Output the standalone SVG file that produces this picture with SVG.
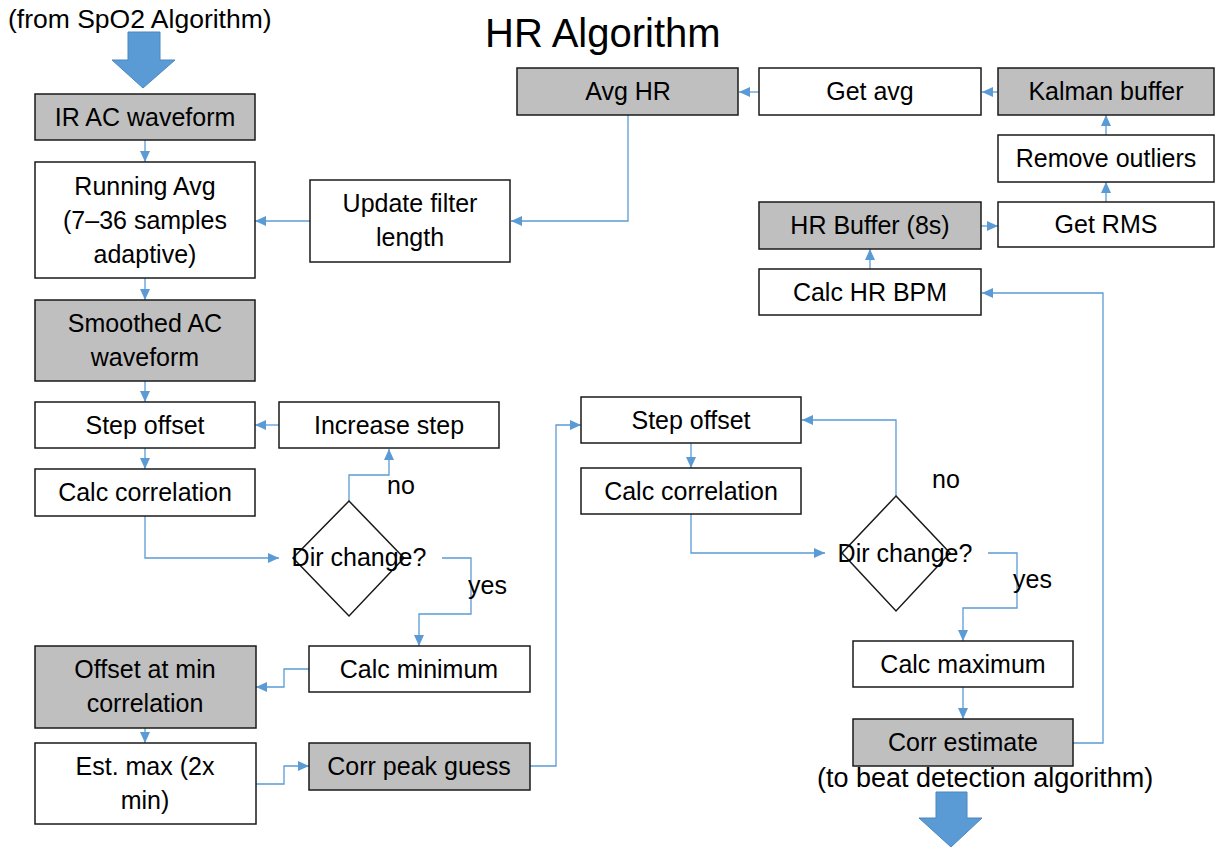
<svg xmlns="http://www.w3.org/2000/svg" width="1217" height="848" viewBox="0 0 1217 848">
  <style>
    text { font-family: "Liberation Sans", Arial, sans-serif; fill: #000; }
    .box { fill: #fff; stroke: #1a1a1a; stroke-width: 1.5; }
    .box.data { fill: #bfbfbf; }
    .lbl { font-size: 25px; text-anchor: middle; }
    .free { font-size: 26.5px; }
    .cond { font-size: 25px; }
    .title { font-size: 40px; }
    .conn { fill: none; stroke: #5b9bd5; stroke-width: 1.3; }
    .conn.arr { marker-end: url(#head); }
    .bigarrow { fill: #5b9bd5; stroke: #4a86c0; stroke-width: 1; }
    .diamond { fill: #fff; stroke: #1a1a1a; stroke-width: 1.5; }
  </style>
  <defs>
    <marker id="head" markerUnits="userSpaceOnUse" markerWidth="12" markerHeight="10" refX="11" refY="5" orient="auto">
      <path d="M0,0 L11,5 L0,10 Z" fill="#5b9bd5"/>
    </marker>
  </defs>

  <rect width="1217" height="848" fill="#fff"/>

  <!-- headings -->
  <text class="title" x="485" y="47">HR Algorithm</text>
  <text class="free" x="8" y="28">(from SpO2 Algorithm)</text>
  <text class="free" x="817" y="787" style="font-size:27px">(to beat detection algorithm)</text>

  <!-- block arrows for input and output -->
  <path class="bigarrow" d="M128,32 H160 V60 H175 L143,88 L112,60 H128 Z"/>
  <path class="bigarrow" d="M936,792 H967 V818 H982 L951,847 L919,818 H936 Z"/>

  <!-- connectors -->
  <g id="connectors">
    <path class="conn arr" d="M145,140 V162"/>
    <path class="conn arr" d="M145,278 V300"/>
    <path class="conn arr" d="M310,221 H255"/>
    <path class="conn arr" d="M628,115 V221 H511"/>
    <path class="conn arr" d="M145,381 V402"/>
    <path class="conn arr" d="M279,425 H255"/>
    <path class="conn arr" d="M145,448 V469"/>
    <path class="conn arr" d="M145,516 V558 H279"/>
    <path class="conn arr" d="M349,501 V475 H389 V449"/>
    <path class="conn arr" d="M442,558 H471 V614 H419 V646"/>
    <path class="conn arr" d="M309,669 H284 V687 H256"/>
    <path class="conn arr" d="M145,728 V743"/>
    <path class="conn arr" d="M256,784 H284 V766 H309"/>
    <path class="conn arr" d="M530,766 H556 V425 H581"/>
    <path class="conn arr" d="M691,443 V468"/>
    <path class="conn arr" d="M691,514 V553 H825"/>
    <path class="conn arr" d="M896,496 V420 H802"/>
    <path class="conn arr" d="M988,553 H1017 V608 H963 V641"/>
    <path class="conn arr" d="M963,687 V719"/>
    <path class="conn arr" d="M1073,743 H1103 V293 H982"/>
    <path class="conn arr" d="M870,269 V249"/>
    <path class="conn arr" d="M981,226 H998"/>
    <path class="conn arr" d="M1106,202 V182"/>
    <path class="conn arr" d="M1106,135 V115"/>
    <path class="conn arr" d="M998,92 H982"/>
    <path class="conn arr" d="M759,92 H739"/>
  </g>

  <!-- left column -->
  <g id="ir-ac-waveform">
    <rect class="box data" x="35" y="94" width="220" height="46"/>
    <text class="lbl" x="145" y="126">IR AC waveform</text>
  </g>
  <g id="running-avg">
    <rect class="box" x="35" y="162" width="220" height="116"/>
    <text class="lbl" x="145" y="195">Running Avg</text>
    <text class="lbl" x="145" y="229">(7–36 samples</text>
    <text class="lbl" x="145" y="263">adaptive)</text>
  </g>
  <g id="update-filter-length">
    <rect class="box" x="310" y="180" width="200" height="82"/>
    <text class="lbl" x="410" y="212">Update filter</text>
    <text class="lbl" x="410" y="246">length</text>
  </g>
  <g id="smoothed-ac">
    <rect class="box data" x="35" y="300" width="220" height="81"/>
    <text class="lbl" x="145" y="332">Smoothed AC</text>
    <text class="lbl" x="145" y="366">waveform</text>
  </g>
  <g id="step-offset-min">
    <rect class="box" x="35" y="402" width="220" height="46"/>
    <text class="lbl" x="145" y="434">Step offset</text>
  </g>
  <g id="increase-step">
    <rect class="box" x="279" y="402" width="220" height="46"/>
    <text class="lbl" x="389" y="434">Increase step</text>
  </g>
  <g id="calc-correlation-min">
    <rect class="box" x="35" y="469" width="220" height="47"/>
    <text class="lbl" x="145" y="501">Calc correlation</text>
  </g>
  <g id="dir-change-min">
    <path class="diamond" d="M349,501 L404,558 L349,616 L293,558 Z"/>
    <text class="lbl" x="359" y="566">Dir change?</text>
    <text class="cond" x="387" y="494">no</text>
    <text class="cond" x="468" y="594">yes</text>
  </g>
  <g id="calc-minimum">
    <rect class="box" x="309" y="646" width="221" height="46"/>
    <text class="lbl" x="419" y="678">Calc minimum</text>
  </g>
  <g id="offset-at-min">
    <rect class="box data" x="35" y="646" width="221" height="82"/>
    <text class="lbl" x="145" y="678">Offset at min</text>
    <text class="lbl" x="145" y="712">correlation</text>
  </g>
  <g id="est-max">
    <rect class="box" x="35" y="743" width="221" height="81"/>
    <text class="lbl" x="145" y="775">Est. max (2x</text>
    <text class="lbl" x="145" y="809">min)</text>
  </g>
  <g id="corr-peak-guess">
    <rect class="box data" x="309" y="743" width="221" height="47"/>
    <text class="lbl" x="419" y="775">Corr peak guess</text>
  </g>

  <!-- right column -->
  <g id="step-offset-max">
    <rect class="box" x="581" y="397" width="220" height="46"/>
    <text class="lbl" x="691" y="429">Step offset</text>
  </g>
  <g id="calc-correlation-max">
    <rect class="box" x="581" y="468" width="220" height="46"/>
    <text class="lbl" x="691" y="500">Calc correlation</text>
  </g>
  <g id="dir-change-max">
    <path class="diamond" d="M896,496 L950,553 L896,611 L842,553 Z"/>
    <text class="lbl" x="905" y="562">Dir change?</text>
    <text class="cond" x="932" y="488">no</text>
    <text class="cond" x="1013" y="588">yes</text>
  </g>
  <g id="calc-maximum">
    <rect class="box" x="853" y="641" width="220" height="46"/>
    <text class="lbl" x="963" y="673">Calc maximum</text>
  </g>
  <g id="corr-estimate">
    <rect class="box data" x="853" y="719" width="220" height="47"/>
    <text class="lbl" x="963" y="751">Corr estimate</text>
  </g>

  <!-- heart-rate averaging chain -->
  <g id="calc-hr-bpm">
    <rect class="box" x="759" y="269" width="222" height="46"/>
    <text class="lbl" x="870" y="301">Calc HR BPM</text>
  </g>
  <g id="hr-buffer">
    <rect class="box data" x="759" y="202" width="222" height="47"/>
    <text class="lbl" x="870" y="234">HR Buffer (8s)</text>
  </g>
  <g id="get-rms">
    <rect class="box" x="998" y="202" width="216" height="45"/>
    <text class="lbl" x="1106" y="233">Get RMS</text>
  </g>
  <g id="remove-outliers">
    <rect class="box" x="998" y="135" width="216" height="47"/>
    <text class="lbl" x="1106" y="167">Remove outliers</text>
  </g>
  <g id="kalman-buffer">
    <rect class="box data" x="998" y="68" width="216" height="47"/>
    <text class="lbl" x="1106" y="100">Kalman buffer</text>
  </g>
  <g id="get-avg">
    <rect class="box" x="759" y="68" width="222" height="47"/>
    <text class="lbl" x="870" y="100">Get avg</text>
  </g>
  <g id="avg-hr">
    <rect class="box data" x="517" y="68" width="221" height="47"/>
    <text class="lbl" x="628" y="100">Avg HR</text>
  </g>
</svg>
